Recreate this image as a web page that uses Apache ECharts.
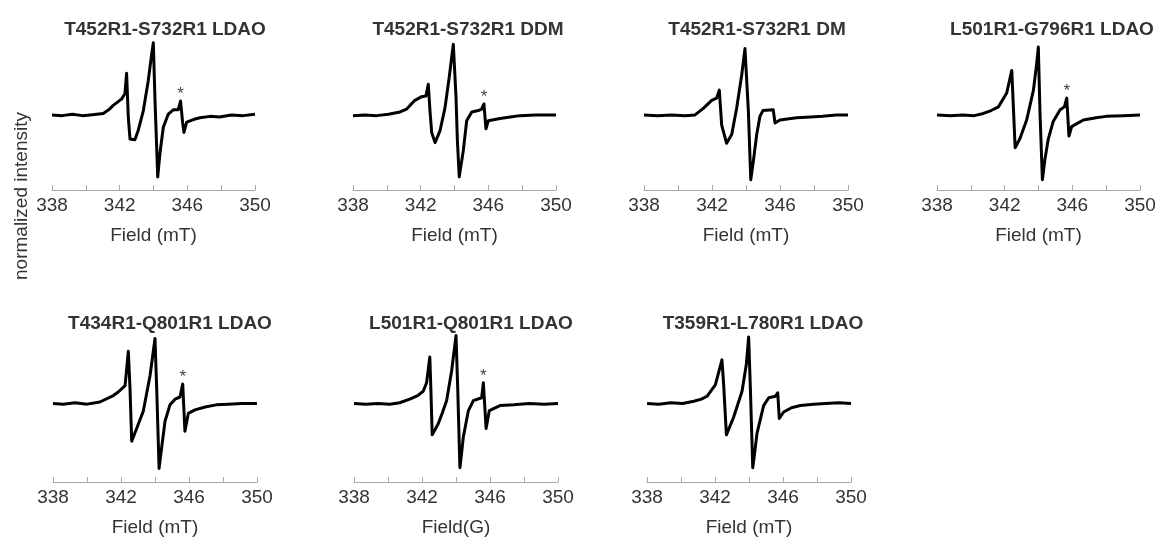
<!DOCTYPE html>
<html>
<head>
<meta charset="utf-8">
<script src="https://cdn.jsdelivr.net/npm/echarts@6/dist/echarts.min.js"></script>
<style>
  html, body { margin: 0; padding: 0; background: #fff; }
  #main { width: 1162px; height: 538px; }
</style>
</head>
<body>
<div id="main"></div>
<script>
// panel titles and x axis names
const titles = ['T452R1-S732R1 LDAO', 'T452R1-S732R1 DDM', 'T452R1-S732R1 DM', 'L501R1-G796R1 LDAO',
                'T434R1-Q801R1 LDAO', 'L501R1-Q801R1 LDAO', 'T359R1-L780R1 LDAO']
const xNames = ['Field (mT)', 'Field (mT)', 'Field (mT)', 'Field (mT)', 'Field (mT)', 'Field(G)', 'Field (mT)']
const xTicks = [338, 342, 346, 350]

// spectra, [field mT, normalized intensity]
const spec1 = [[338,0],[338.6,-0.01],[339.2,0.01],[339.8,-0.01],[340.25,0.0],[341.03,0.02],[341.35,0.07],[341.62,0.13],[342.12,0.22],[342.31,0.29],[342.41,0.57],[342.51,-0.03],[342.61,-0.33],[342.9,-0.34],[343.1,-0.21],[343.4,0.06],[343.69,0.47],[343.89,0.83],[343.99,0.99],[344.09,0.19],[344.25,-0.85],[344.38,-0.53],[344.58,-0.17],[344.87,0.01],[345.17,0.07],[345.46,0.07],[345.6,0.19],[345.72,-0.1],[345.8,-0.24],[345.96,-0.1],[346.4,-0.06],[346.75,-0.04],[347.34,-0.02],[347.9,-0.03],[348.6,0.0],[349.3,-0.01],[350,0.01]]
const spec2 = [[338,-0.01],[338.7,0.0],[339.4,-0.01],[340.1,0.01],[340.78,0.04],[341.17,0.08],[341.66,0.2],[342.06,0.25],[342.31,0.26],[342.45,0.42],[342.55,0.06],[342.65,-0.24],[342.85,-0.38],[343.14,-0.22],[343.44,0.1],[343.69,0.52],[343.93,0.97],[344.09,0.24],[344.17,-0.35],[344.28,-0.85],[344.52,-0.49],[344.72,-0.08],[345.02,0.04],[345.41,0.06],[345.6,0.08],[345.74,0.15],[345.86,-0.19],[346.0,-0.08],[346.69,-0.05],[347.3,-0.03],[347.87,-0.01],[348.8,0.0],[350,0.0]]
const spec3 = [[338,0],[338.8,-0.01],[339.6,0.0],[340.4,-0.01],[341.0,0.0],[341.49,0.09],[341.98,0.2],[342.27,0.23],[342.43,0.34],[342.57,-0.14],[342.86,-0.39],[343.16,-0.27],[343.45,0.09],[343.75,0.55],[343.94,0.91],[344.14,0.05],[344.28,-0.89],[344.43,-0.64],[344.63,-0.27],[344.82,-0.02],[345.0,0.06],[345.6,0.07],[345.71,-0.11],[346.0,-0.07],[346.98,-0.04],[347.8,-0.03],[348.5,-0.02],[349.3,0.0],[350,0]]
const spec4 = [[338,0],[338.8,-0.01],[339.5,0.0],[340.2,-0.01],[340.74,0.02],[341.2,0.06],[341.63,0.11],[342.12,0.3],[342.42,0.61],[342.62,-0.45],[342.91,-0.32],[343.3,-0.07],[343.7,0.34],[343.89,0.7],[343.99,0.93],[344.09,0.02],[344.23,-0.89],[344.38,-0.61],[344.57,-0.34],[344.87,-0.09],[345.28,0.07],[345.53,0.11],[345.67,0.23],[345.8,-0.29],[345.96,-0.16],[346.65,-0.07],[347.4,-0.04],[348,-0.02],[349,-0.01],[350,0]]
const spec5 = [[338,0],[338.6,-0.01],[339.3,0.01],[340.0,-0.01],[340.76,0.02],[341.55,0.11],[341.84,0.16],[342.24,0.25],[342.43,0.73],[342.53,0.21],[342.63,-0.53],[342.92,-0.35],[343.31,-0.11],[343.71,0.39],[344.0,0.91],[344.1,0.21],[344.24,-0.91],[344.39,-0.62],[344.59,-0.25],[344.88,-0.02],[345.18,0.06],[345.47,0.09],[345.63,0.27],[345.76,-0.39],[345.96,-0.14],[346.35,-0.09],[346.95,-0.05],[347.6,-0.02],[348.3,-0.01],[349.1,0.0],[350,0]]
const spec6 = [[338,0],[338.7,-0.01],[339.4,0.0],[340.1,-0.01],[340.69,0.01],[341.28,0.06],[341.75,0.11],[342.07,0.17],[342.27,0.29],[342.46,0.65],[342.52,0.22],[342.6,-0.44],[342.96,-0.28],[343.2,-0.13],[343.45,0.04],[343.74,0.45],[344.0,0.95],[344.1,0.22],[344.23,-0.9],[344.33,-0.69],[344.43,-0.47],[344.73,-0.1],[345.02,0.04],[345.51,0.08],[345.61,0.29],[345.77,-0.35],[345.96,-0.1],[346.59,-0.03],[347.4,-0.02],[348.3,0.0],[349.2,-0.01],[350,0]]
const spec7 = [[338,0],[338.7,-0.01],[339.4,0.01],[340.1,0.0],[340.75,0.03],[341.2,0.06],[341.53,0.1],[342.02,0.26],[342.41,0.61],[342.51,0.26],[342.67,-0.44],[343.1,-0.19],[343.59,0.17],[343.84,0.54],[343.98,0.93],[344.08,0.22],[344.22,-0.9],[344.35,-0.66],[344.47,-0.42],[344.86,-0.03],[345.16,0.08],[345.55,0.1],[345.69,0.15],[345.78,-0.21],[346.04,-0.12],[346.5,-0.06],[347.02,-0.03],[347.8,-0.01],[348.5,0.0],[349.3,0.01],[350,0]]
const spectra = [spec1, spec2, spec3, spec4, spec5, spec6, spec7]

// asterisk marks (field, intensity) – null where the panel has none
const stars = [[345.6,0.19],[345.74,0.15],null,[345.67,0.23],[345.63,0.27],[345.61,0.29],null]

// layout of the seven panels
const gridLeft = [52, 353, 644, 937, 53, 354, 647]
const gridWidth = [203, 203, 204, 203, 204, 204, 204]
const titleX = [160, 463, 752, 1047, 165, 466, 758]
const rowTop = [42, 332]
const rowHeight = [148, 153]
const rowMin = [-1.03, -1.1]
const titleTop = [15, 309]

const font = 'Liberation Sans, Arial, sans-serif'
const chart = echarts.init(document.getElementById('main'))

const grids = [], xAxes = [], yAxes = [], series = [], title = []
spectra.forEach((spec, i) => {
  const row = i < 4 ? 0 : 1
  grids.push({ left: gridLeft[i], width: gridWidth[i], top: rowTop[row], height: rowHeight[row] })
  xAxes.push({
    gridIndex: i, type: 'value', min: 338, max: 350, interval: 2,
    name: xNames[i], nameLocation: 'middle', nameGap: 36,
    nameTextStyle: { fontFamily: font, fontSize: 19, color: '#333' },
    axisLine: { onZero: false, lineStyle: { color: '#a8a8a8', width: 1 } },
    axisTick: { inside: true, length: 5, lineStyle: { color: '#a8a8a8' } },
    axisLabel: {
      margin: 6, fontFamily: font, fontSize: 19, color: '#333',
      formatter: v => xTicks.indexOf(v) >= 0 ? String(v) : ''
    },
    splitLine: { show: false }
  })
  yAxes.push({ gridIndex: i, type: 'value', min: rowMin[row], max: 1.0, show: false })
  title.push({
    text: titles[i], left: titleX[i], top: titleTop[row], textAlign: 'center',
    textStyle: { fontFamily: font, fontSize: 19, fontWeight: 'bold', color: '#333' }
  })
  const s = {
    type: 'line', xAxisIndex: i, yAxisIndex: i, data: spec,
    showSymbol: false, symbol: 'none', silent: true,
    lineStyle: { color: '#000', width: 3, join: 'round' }
  }
  if (stars[i]) {
    s.markPoint = {
      symbol: 'circle', symbolSize: 0, silent: true,
      data: [{ coord: stars[i] }],
      label: { show: true, formatter: '*', position: 'top', distance: -2, fontFamily: font, fontSize: 17, color: '#444' }
    }
  }
  series.push(s)
})

chart.setOption({
  animation: false,
  title: title,
  grid: grids,
  xAxis: xAxes,
  yAxis: yAxes,
  series: series,
  graphic: [{
    type: 'text', x: 22, y: 196, rotation: Math.PI / 2,
    style: { text: 'normalized intensity', font: '19px ' + font, fill: '#333', textAlign: 'center', textVerticalAlign: 'middle' }
  }]
})
</script>
</body>
</html>
